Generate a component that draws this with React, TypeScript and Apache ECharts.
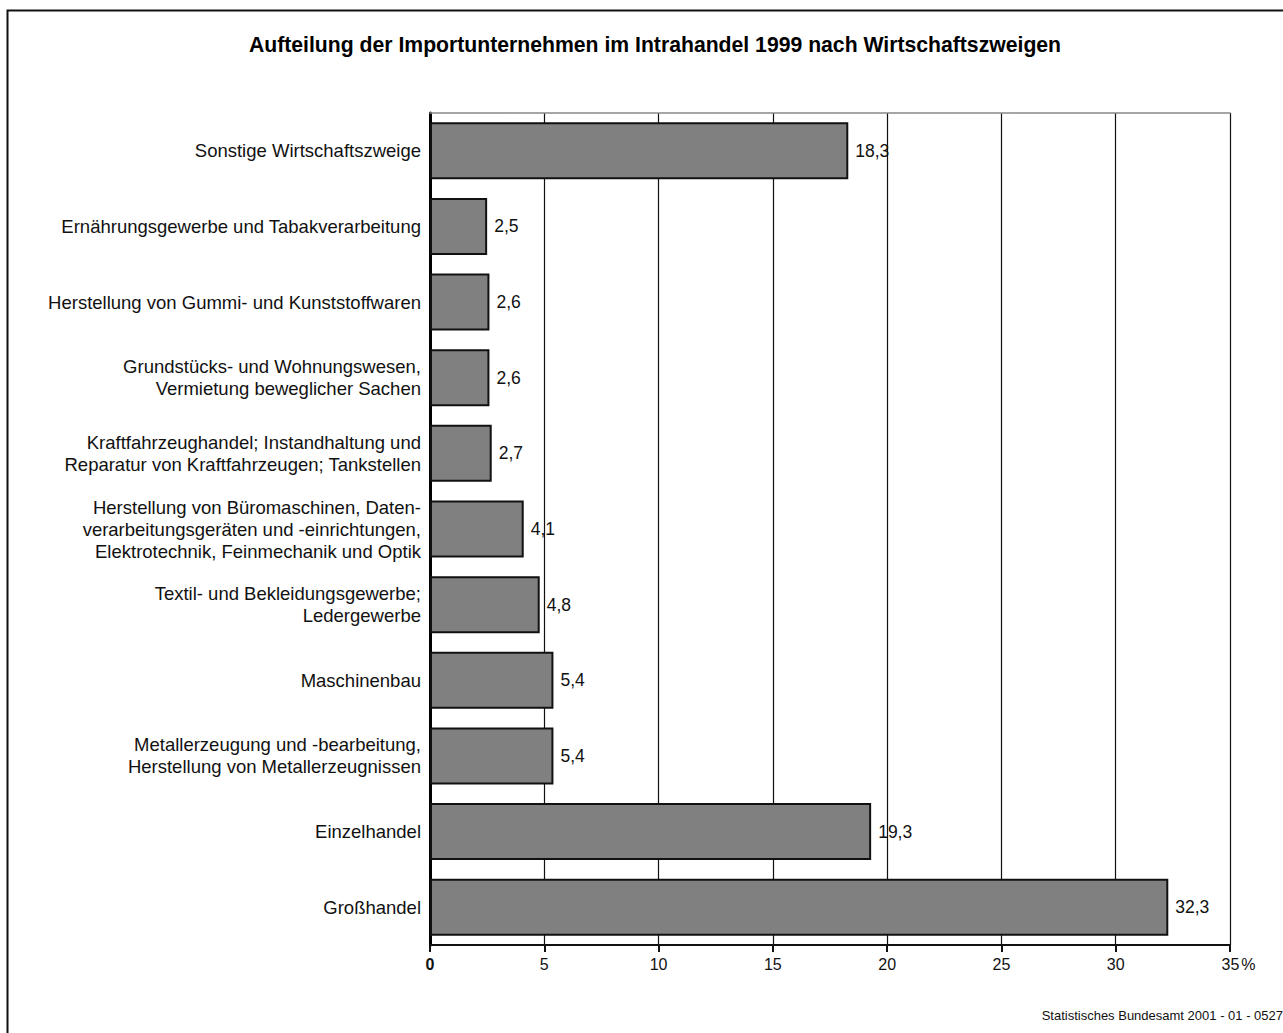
import React, { useEffect, useRef } from "react";
import * as echarts from "echarts";

const FONT = "'Liberation Sans', Arial, Helvetica, sans-serif";

const titleText =
  "Aufteilung der Importunternehmen im Intrahandel 1999 nach Wirtschaftszweigen";
const sourceText = "Statistisches Bundesamt 2001 - 01 - 0527";

// Branches, listed from top to bottom
const categories = [
  "Sonstige Wirtschaftszweige",
  "Ernährungsgewerbe und Tabakverarbeitung",
  "Herstellung von Gummi- und Kunststoffwaren",
  "Grundstücks- und Wohnungswesen,\nVermietung beweglicher Sachen",
  "Kraftfahrzeughandel; Instandhaltung und\nReparatur von Kraftfahrzeugen; Tankstellen",
  "Herstellung von Büromaschinen, Daten-\nverarbeitungsgeräten und -einrichtungen,\nElektrotechnik, Feinmechanik und Optik",
  "Textil- und Bekleidungsgewerbe;\nLedergewerbe",
  "Maschinenbau",
  "Metallerzeugung und -bearbeitung,\nHerstellung von Metallerzeugnissen",
  "Einzelhandel",
  "Großhandel",
];

// Share of importing enterprises, in %
const shares = [18.3, 2.5, 2.6, 2.6, 2.7, 4.1, 4.8, 5.4, 5.4, 19.3, 32.3];

const axisMax = 35;
const axisStep = 5;

const fmt = (v: number) => v.toFixed(1).replace(".", ",");

export default function App() {
  const ref = useRef<HTMLDivElement>(null);

  useEffect(() => {
    if (!ref.current) return;
    const chart = echarts.init(ref.current, null, { renderer: "svg" });
    chart.setOption({
      animation: false,
      backgroundColor: "#ffffff",
      textStyle: { fontFamily: FONT },
      title: {
        text: titleText,
        left: 650,
        top: 29,
        textAlign: "center",
        textStyle: {
          fontFamily: FONT,
          fontSize: 21.2,
          fontWeight: "bold",
          color: "#000",
        },
      },
      graphic: [
        {
          type: "rect",
          shape: { x: 7.5, y: 10.5, width: 1320, height: 1100 },
          style: { fill: "none", stroke: "#111", lineWidth: 2 },
          silent: true,
        },
        {
          type: "text",
          right: 0,
          top: 1009,
          style: {
            text: sourceText,
            fontFamily: FONT,
            fontSize: 13,
            fill: "#111",
          },
        },
      ],
      grid: { left: 430, right: 53, top: 113, bottom: 88, containLabel: false },
      xAxis: [
        {
          type: "value",
          min: 0,
          max: axisMax,
          interval: axisStep,
          position: "bottom",
          axisLine: { show: true, lineStyle: { color: "#111", width: 2 } },
          axisTick: {
            show: true,
            length: 7,
            lineStyle: { color: "#111", width: 2 },
          },
          splitLine: { show: true, lineStyle: { color: "#111", width: 1.2 } },
          axisLabel: {
            margin: 11,
            fontFamily: FONT,
            fontSize: 16,
            color: "#111",
            formatter: (v: number) =>
              v === 0
                ? "{z|0}"
                : v === axisMax
                ? "{n|" + v + "}{p|%}"
                : String(v),
            rich: {
              z: { fontFamily: FONT, fontSize: 16, fontWeight: "bold", color: "#111" },
              n: { fontFamily: FONT, fontSize: 16, color: "#111", padding: [0, 2, 0, 17] },
              p: { fontFamily: FONT, fontSize: 16, color: "#111" },
            },
          },
        },
        {
          type: "value",
          min: 0,
          max: axisMax,
          interval: axisStep,
          position: "top",
          axisLine: { show: true, lineStyle: { color: "#888", width: 1.5 } },
          axisTick: { show: false },
          axisLabel: { show: false },
          splitLine: { show: false },
        },
      ],
      yAxis: {
        type: "category",
        inverse: true,
        data: categories,
        axisLine: { show: true, lineStyle: { color: "#000", width: 3 } },
        axisTick: { show: false },
        axisLabel: {
          margin: 9,
          fontFamily: FONT,
          fontSize: 18.5,
          lineHeight: 22,
          color: "#111",
          align: "right",
        },
      },
      series: [
        {
          type: "bar",
          data: shares,
          xAxisIndex: 0,
          barWidth: 57,
          itemStyle: { color: "#808080", borderColor: "#111", borderWidth: 2 },
          label: {
            show: true,
            position: "right",
            distance: 7,
            fontFamily: FONT,
            fontSize: 17.5,
            color: "#111",
            formatter: (p: any) => fmt(p.value),
          },
        },
      ],
    });
    return () => chart.dispose();
  }, []);

  return (
    <div
      ref={ref}
      style={{ position: "fixed", left: 0, top: 0, width: 1283, height: 1033 }}
    />
  );
}
